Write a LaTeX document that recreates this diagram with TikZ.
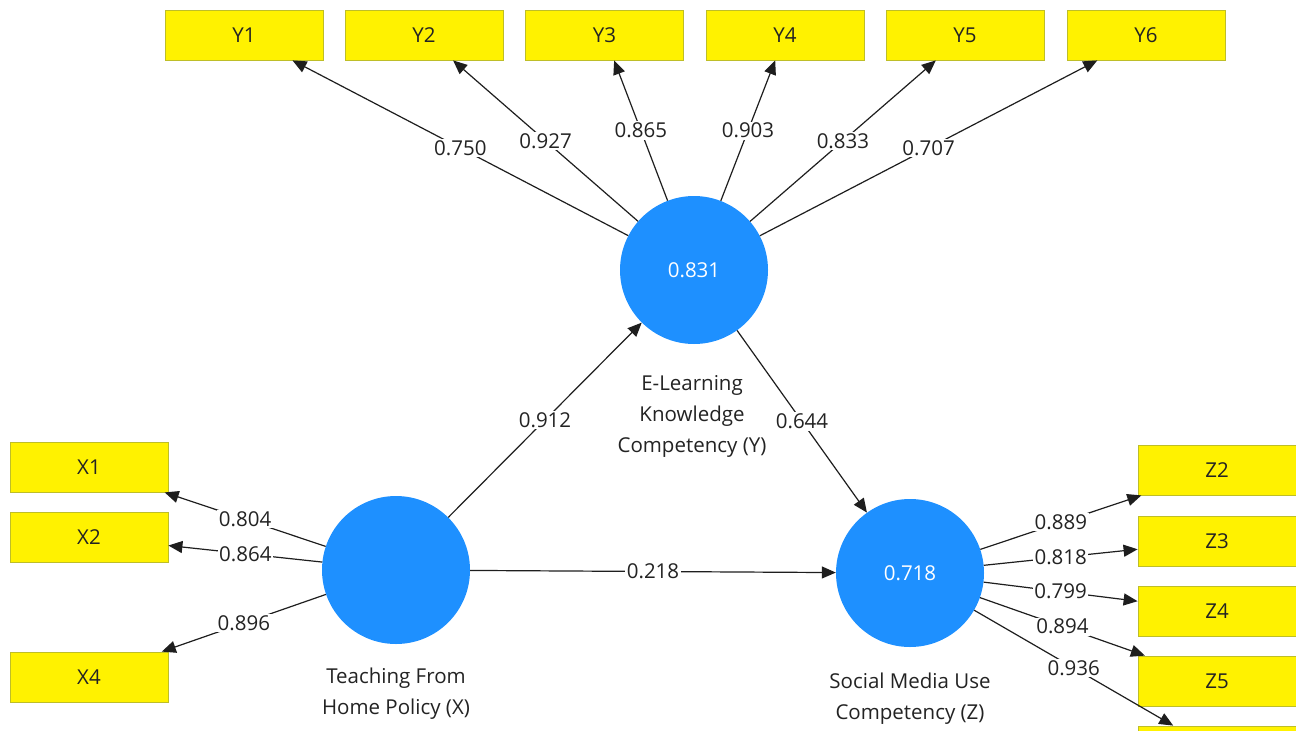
\documentclass[tikz,border=0pt]{standalone}
\usepackage{fontspec}
\setmainfont{Open Sans}
\usetikzlibrary{arrows.meta}
\definecolor{lvblue}{RGB}{30,144,255}
\definecolor{yedge}{RGB}{190,190,40}
\definecolor{txt}{RGB}{35,35,35}
\definecolor{linec}{RGB}{30,30,30}
\tikzset{
  ind/.style={draw=yedge, fill=yellow, minimum width=158pt, minimum height=50pt, inner sep=0pt, line width=0.8pt, text=txt},
  lat/.style={circle, fill=lvblue, minimum size=148pt, inner sep=0pt, text=white},
  ld/.style={fill=white, inner sep=1.5pt, text=txt},
  con/.style={draw=linec, line width=1.2pt, -{Triangle[length=14pt,width=12pt]}},
  lvcaption/.style={align=center, text=txt, anchor=north, inner sep=0pt}
}
\begin{document}
\begin{tikzpicture}[x=1pt,y=-1pt,font=\fontsize{20.5}{31}\selectfont]
\useasboundingbox[fill=white] (0,0) rectangle (1296,731);
% latent variables
\node[lat] (yc) at (694,270) {0.831};
\node[lat] (xc) at (396,570) {};
\node[lat] (zc) at (910,573) {0.718};
% captions
\node[lvcaption] (yl) at (692,375) {E-Learning\\Knowledge\\Competency (Y)};
\node[lvcaption] (xl) at (396,668) {Teaching From\\Home Policy (X)};
\node[lvcaption] (zl) at (910,673) {Social Media Use\\Competency (Z)};
% indicators
\node[ind] (y1) at (244,35) {Y1};
\node[ind] (y2) at (424,35) {Y2};
\node[ind] (y3) at (604.5,35) {Y3};
\node[ind] (y4) at (785,35) {Y4};
\node[ind] (y5) at (965,35) {Y5};
\node[ind] (y6) at (1146,35) {Y6};
\node[ind] (x1) at (89,467) {X1};
\node[ind] (x2) at (89,537) {X2};
\node[ind] (x4) at (89,677) {X4};
\node[ind] (z2) at (1217,470) {Z2};
\node[ind] (z3) at (1217,541) {Z3};
\node[ind] (z4) at (1217,611) {Z4};
\node[ind] (z5) at (1217,681) {Z5};
\node[ind] (z6) at (1217,751) {};
% outer loadings
\draw[con] (yc) -- node[ld]{0.750} (y1);
\draw[con] (yc) -- node[ld]{0.927} (y2);
\draw[con] (yc) -- node[ld]{0.865} (y3);
\draw[con] (yc) -- node[ld]{0.903} (y4);
\draw[con] (yc) -- node[ld]{0.833} (y5);
\draw[con] (yc) -- node[ld]{0.707} (y6);
\draw[con] (xc) -- node[ld]{0.804} (x1);
\draw[con] (xc) -- node[ld]{0.864} (x2);
\draw[con] (xc) -- node[ld]{0.896} (x4);
\draw[con] (zc) -- node[ld]{0.889} (z2);
\draw[con] (zc) -- node[ld]{0.818} (z3);
\draw[con] (zc) -- node[ld]{0.799} (z4);
\draw[con] (zc) -- node[ld]{0.894} (z5);
\draw[con] (zc) -- node[ld]{0.936} (z6);
% path coefficients
\draw[con] (xc) -- node[ld]{0.912} (yc);
\draw[con] (yc) -- node[ld]{0.644} (zc);
\draw[con] (xc) -- node[ld]{0.218} (zc);
\end{tikzpicture}
\end{document}
